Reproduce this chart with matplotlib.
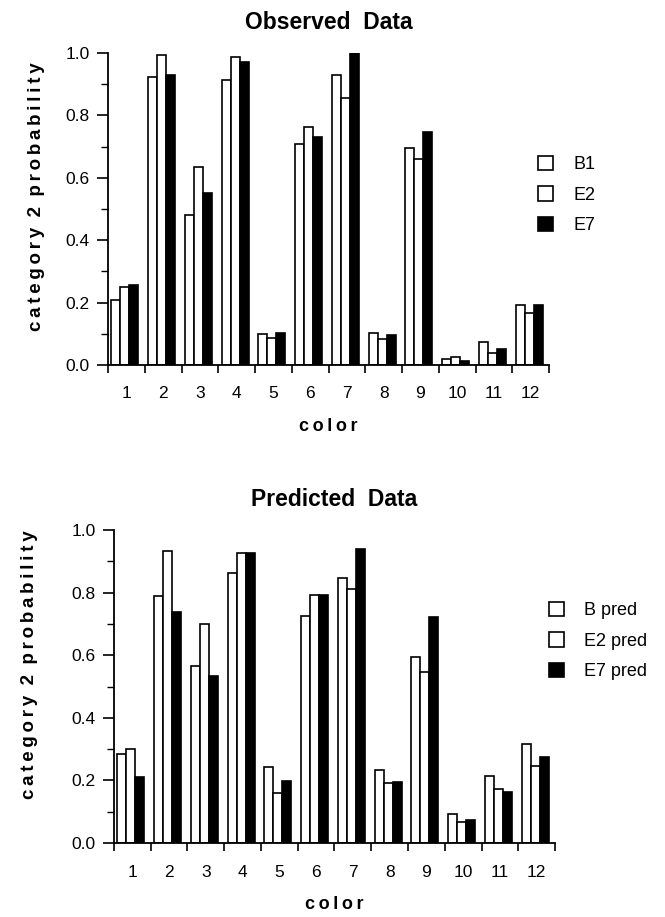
import matplotlib
matplotlib.use("Agg")
import matplotlib.pyplot as plt
from matplotlib.patches import Patch
from matplotlib.ticker import MultipleLocator, FixedLocator, FixedFormatter
import numpy as np

FAMILY = ["Liberation Sans", "DejaVu Sans"]
plt.rcParams.update({
    "font.family": FAMILY,
    "axes.spines.top": False, "axes.spines.right": False,
    "axes.linewidth": 1.3, "xtick.major.width": 1.2, "ytick.major.width": 1.2,
    "ytick.minor.width": 1.0,
})

colors = list(range(1, 13))
tick_labels = [str(c) for c in colors]

# observed data
obs_b1 = [0.208, 0.922, 0.481, 0.913, 0.098, 0.709, 0.930, 0.101, 0.694, 0.019, 0.073, 0.192]
obs_e2 = [0.249, 0.994, 0.636, 0.988, 0.088, 0.764, 0.856, 0.083, 0.659, 0.027, 0.037, 0.166]
obs_e7 = [0.255, 0.929, 0.550, 0.971, 0.104, 0.731, 1.000, 0.095, 0.748, 0.013, 0.051, 0.192]

# predicted data
pred_b = [0.283, 0.789, 0.565, 0.864, 0.242, 0.725, 0.848, 0.233, 0.593, 0.093, 0.215, 0.316]
pred_e2 = [0.299, 0.933, 0.700, 0.926, 0.161, 0.792, 0.813, 0.191, 0.546, 0.068, 0.171, 0.247]
pred_e7 = [0.212, 0.737, 0.534, 0.928, 0.199, 0.793, 0.938, 0.196, 0.723, 0.073, 0.162, 0.276]

fig = plt.figure(figsize=(6.65, 9.17), dpi=100)
ax1 = fig.add_axes([0.1624, 0.6020, 0.6632, 0.3402])
ax2 = fig.add_axes([0.1714, 0.0807, 0.6632, 0.3413])

W = 0.245
FILLS = ["white", "white", "black"]


def spaced(s):
    # old typesetting: letters a bit apart, words further apart
    return "  ".join("\u2009".join(w) for w in s.split())


def panel(ax, series, names, title, ylab_x, ylab_y, leg_xy):
    x = np.array(colors)
    for i, (vals, fill) in enumerate(zip(series, FILLS)):
        ax.bar(x + (i - 1) * W - 0.04, vals, width=W, color=fill,
               edgecolor="black", linewidth=1.2)
    ax.set_xlim(0.5, 12.5)
    ax.set_ylim(0, 1.0)
    ax.xaxis.set_major_locator(FixedLocator(np.arange(0.5, 13, 1)))
    ax.xaxis.set_major_formatter(FixedFormatter([""] * 13))
    ax.xaxis.set_minor_locator(FixedLocator(x))
    ax.xaxis.set_minor_formatter(FixedFormatter(tick_labels))
    ax.tick_params(axis="x", which="major", length=5.5, direction="out")
    ax.tick_params(axis="x", which="minor", length=0, pad=15.5, labelsize=12.5)
    ax.yaxis.set_major_locator(MultipleLocator(0.2))
    ax.yaxis.set_minor_locator(MultipleLocator(0.1))
    ax.yaxis.set_major_formatter(lambda v, p: f"{v:.1f}")
    ax.tick_params(axis="y", which="major", length=8, labelsize=12.5, pad=5)
    ax.tick_params(axis="y", which="minor", length=5)
    ax.set_xlabel(spaced("color"), fontsize=13, fontweight="bold", labelpad=12,
                  family=FAMILY)
    ax.set_ylabel(spaced("category 2 probability"), fontsize=13.5, fontweight="bold",
                  family=FAMILY)
    ax.yaxis.set_label_coords(ylab_x, ylab_y)
    ax.set_title(title.replace(" ", "  "), fontsize=16.5, fontweight="bold", pad=17)
    handles = [Patch(facecolor=f, edgecolor="black", linewidth=1.2) for f in FILLS]
    ax.legend(handles, names, loc="upper left", bbox_to_anchor=leg_xy,
              bbox_transform=fig.transFigure, frameon=False, fontsize=13,
              borderpad=0, handlelength=0.85, handleheight=0.85,
              labelspacing=0.72, handletextpad=1.1)


panel(ax1, [obs_b1, obs_e2, obs_e7], ["B1", "E2", "E7"], "Observed Data",
      -0.143, 0.54, (529 / 665, 1 - 147 / 917))
panel(ax2, [pred_b, pred_e2, pred_e7], ["B pred", "E2 pred", "E7 pred"], "Predicted Data",
      -0.172, 0.57, (540 / 665, 1 - 593 / 917))

fig.savefig("out.png", dpi=100, facecolor="white")
